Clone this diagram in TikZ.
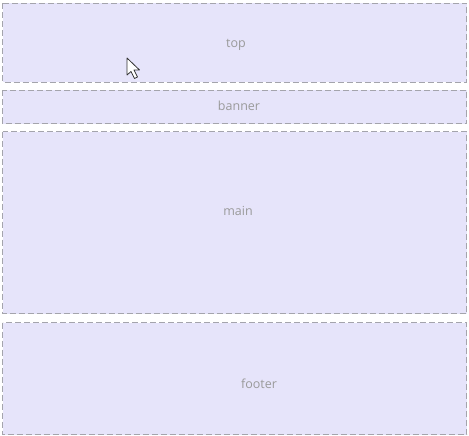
\documentclass[tikz,border=0pt]{standalone}
\usepackage{fontspec}
\setmainfont{Open Sans}
\definecolor{boxfill}{HTML}{E6E4FA}
\definecolor{boxline}{HTML}{A4A4AC}
\definecolor{boxtext}{HTML}{9A9A9A}
\begin{document}
\begin{tikzpicture}[x=1pt,y=-1pt,
  region/.style={draw=boxline, fill=boxfill, dash pattern=on 6pt off 3pt, line width=1.3pt},
  lbl/.style={text=boxtext, font=\fontsize{12.5}{14}\selectfont, inner sep=0pt}]
\useasboundingbox[fill=white] (0,0) rectangle (469,436);
\draw[region] (2.5,3.5) rectangle (466.5,82.5);
\draw[region] (2.5,90.5) rectangle (466.5,123.5);
\draw[region] (2.5,131.5) rectangle (466.5,313.5);
\draw[region] (2.5,322.5) rectangle (466.5,434.5);
\node[lbl] (top) at (236,45) {top};
\node[lbl] (banner) at (239,106) {banner};
\node[lbl] (main) at (238,211) {main};
\node[lbl] (footer) at (259,384) {footer};
% mouse cursor
\draw[fill=white, draw=black!80, line width=0.8pt, line join=round]
  (127,58) -- (127,75) -- (131,71.5) -- (134.5,78.5) -- (137.5,77) -- (134,70) -- (139.5,70) -- cycle;
\end{tikzpicture}
\end{document}
